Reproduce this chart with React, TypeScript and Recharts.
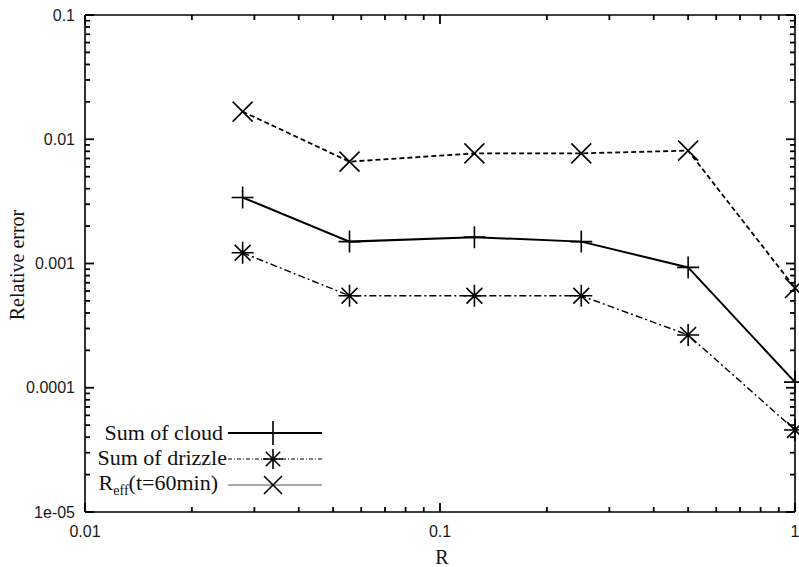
import React from "react";
import { LineChart, Line, XAxis, YAxis, ReferenceDot, ReferenceLine } from "recharts";

const rValues = [0.0278, 0.0556, 0.125, 0.25, 0.5, 1];
const cloudErr = [0.0034, 0.0015, 0.00163, 0.0015, 0.00093, 0.000111];
const drizzleErr = [0.00122, 0.00055, 0.00055, 0.00055, 0.000266, 0.0000457];
const reffErr = [0.0167, 0.0066, 0.0077, 0.0077, 0.0081, 0.000635];

const xMajor = [0.01, 0.1, 1];
const xLabels = ["0.01", "0.1", "1"];
const yMajor = [1e-5, 1e-4, 1e-3, 1e-2, 1e-1];
const yLabels = ["1e-05", "0.0001", "0.001", "0.01", "0.1"];

const seriesNames = ["Sum of cloud", "Sum of drizzle", "Reff(t=60min)"];

const data = rValues.map((r, i) => ({
  r,
  cloud: cloudErr[i],
  drizzle: drizzleErr[i],
  reff: reffErr[i],
}));

function minorsOf(majors: number[]) {
  const out: number[] = [];
  majors.forEach((m, i) => {
    if (i < majors.length - 1) {
      for (let k = 2; k <= 9; k++) out.push(parseFloat((m * k).toPrecision(6)));
    }
  });
  return out;
}
const xMinor = minorsOf(xMajor);
const yMinor = minorsOf(yMajor);
const X_MIN = xMajor[0];
const X_MAX = xMajor[xMajor.length - 1];
const Y_MIN = yMajor[0];
const Y_MAX = yMajor[yMajor.length - 1];

function labelFor(majors: number[], labels: string[]) {
  return (v: number) => {
    const i = majors.findIndex((m) => Math.abs(m - v) / m < 1e-6);
    return i >= 0 ? labels[i] : "";
  };
}

const TICK_FONT = "'Liberation Sans', Arial, sans-serif";
const SERIF = "'Liberation Serif', 'Times New Roman', serif";
const tickStyle = { fontFamily: TICK_FONT, fontSize: 16, fill: "#1a1a1a" };
const frame = { stroke: "#000", strokeWidth: 1.6 };

const TickMark = (props: any) => {
  const { cx, cy, dx, dy } = props;
  if (cx == null || cy == null) return <g />;
  return <path d={`M${cx},${cy}l${dx},${dy}`} stroke="#000" strokeWidth={1.8} fill="none" />;
};

const PlusDot = (props: any) => {
  const { cx, cy, s = 11 } = props;
  if (cx == null || cy == null) return null;
  return (
    <path d={`M${cx - s},${cy}H${cx + s}M${cx},${cy - s}V${cy + s}`} stroke="#000" strokeWidth={1.6} fill="none" />
  );
};
const StarDot = (props: any) => {
  const { cx, cy, s = 11 } = props;
  if (cx == null || cy == null) return null;
  const d = s * 0.72;
  return (
    <path
      d={`M${cx - s},${cy}H${cx + s}M${cx},${cy - s}V${cy + s}M${cx - d},${cy - d}L${cx + d},${cy + d}M${cx - d},${cy + d}L${cx + d},${cy - d}`}
      stroke="#000"
      strokeWidth={1.6}
      fill="none"
    />
  );
};
const CrossDot = (props: any) => {
  const { cx, cy, s = 10 } = props;
  if (cx == null || cy == null) return null;
  return (
    <path
      d={`M${cx - s},${cy - s}L${cx + s},${cy + s}M${cx - s},${cy + s}L${cx + s},${cy - s}`}
      stroke="#000"
      strokeWidth={1.6}
      fill="none"
    />
  );
};

const xTickMarks = [
  ...xMajor.map((v) => ({ v, len: 9 })),
  ...xMinor.map((v) => ({ v, len: 5 })),
];
const yTickMarks = [
  ...yMajor.map((v) => ({ v, len: 9 })),
  ...yMinor.map((v) => ({ v, len: 5 })),
];

export default function App() {
  return (
    <div style={{ position: "absolute", left: 0, top: 0, width: 799, height: 567, background: "#fff" }}>
      <LineChart width={799} height={567} data={data} margin={{ top: 15, right: 4, bottom: 0, left: 0 }}>
        <XAxis
          xAxisId="b"
          dataKey="r"
          type="number"
          scale="log"
          domain={[X_MIN, X_MAX]}
          ticks={xMajor}
          interval={0}
          orientation="bottom"
          height={55}
          tickSize={0}
          tickMargin={14}
          tickFormatter={labelFor(xMajor, xLabels)}
          tick={tickStyle}
          tickLine={false}
          axisLine={frame}
        />
        <YAxis
          yAxisId="l"
          type="number"
          scale="log"
          domain={[Y_MIN, Y_MAX]}
          ticks={yMajor}
          interval={0}
          orientation="left"
          width={85}
          tickSize={0}
          tickMargin={10}
          tickFormatter={labelFor(yMajor, yLabels)}
          tick={tickStyle}
          tickLine={false}
          axisLine={frame}
        />
        <ReferenceLine xAxisId="b" yAxisId="l" y={Y_MAX} ifOverflow="visible" stroke="#000" strokeWidth={1.6} />
        <ReferenceLine xAxisId="b" yAxisId="l" x={X_MAX} ifOverflow="visible" stroke="#000" strokeWidth={1.6} />
        {xTickMarks.map((t) => (
          <ReferenceDot key={"xb" + t.v} xAxisId="b" yAxisId="l" x={t.v} y={Y_MIN} ifOverflow="visible" shape={<TickMark dx={0} dy={-t.len} />} />
        ))}
        {xTickMarks.map((t) => (
          <ReferenceDot key={"xt" + t.v} xAxisId="b" yAxisId="l" x={t.v} y={Y_MAX} ifOverflow="visible" shape={<TickMark dx={0} dy={t.len} />} />
        ))}
        {yTickMarks.map((t) => (
          <ReferenceDot key={"yl" + t.v} xAxisId="b" yAxisId="l" x={X_MIN} y={t.v} ifOverflow="visible" shape={<TickMark dx={t.len} dy={0} />} />
        ))}
        {yTickMarks.map((t) => (
          <ReferenceDot key={"yr" + t.v} xAxisId="b" yAxisId="l" x={X_MAX} y={t.v} ifOverflow="visible" shape={<TickMark dx={-t.len} dy={0} />} />
        ))}
        <Line
          xAxisId="b"
          yAxisId="l"
          dataKey="reff"
          name={seriesNames[2]}
          stroke="#000"
          strokeWidth={1.8}
          strokeDasharray="5 3"
          dot={<CrossDot />}
          isAnimationActive={false}
        />
        <Line
          xAxisId="b"
          yAxisId="l"
          dataKey="cloud"
          name={seriesNames[0]}
          stroke="#000"
          strokeWidth={2}
          dot={<PlusDot />}
          isAnimationActive={false}
        />
        <Line
          xAxisId="b"
          yAxisId="l"
          dataKey="drizzle"
          name={seriesNames[1]}
          stroke="#000"
          strokeWidth={1.4}
          strokeDasharray="7 3 2 3"
          dot={<StarDot />}
          isAnimationActive={false}
        />
      </LineChart>
      <svg width={799} height={567} style={{ position: "absolute", left: 0, top: 0, pointerEvents: "none" }}>
        <text
          x={0}
          y={0}
          transform="translate(24,265) rotate(-90)"
          textAnchor="middle"
          fontFamily={SERIF}
          fontSize={20}
          fill="#111"
        >
          Relative error
        </text>
        <text x={442} y={564} textAnchor="middle" fontFamily={SERIF} fontSize={20} fill="#111">
          R
        </text>
        <g fontFamily={SERIF} fontSize={22} fill="#111">
          <text x={223} y={440} textAnchor="end">{seriesNames[0]}</text>
          <line x1={228} y1={433} x2={322} y2={433} stroke="#000" strokeWidth={2} />
          <PlusDot cx={273} cy={433} s={12} />
          <text x={227} y={465} textAnchor="end">{seriesNames[1]}</text>
          <line x1={228} y1={459} x2={322} y2={459} stroke="#000" strokeWidth={1.2} strokeDasharray="4 2 1 2" />
          <StarDot cx={273} cy={459} s={10} />
          <text x={218} y={490} textAnchor="end">
            R<tspan fontSize={14} dy={5}>eff</tspan>
            <tspan dy={-5}>(t=60min)</tspan>
          </text>
          <line x1={228} y1={485} x2={322} y2={485} stroke="#555" strokeWidth={1.2} />
          <CrossDot cx={273} cy={485} s={9} />
        </g>
      </svg>
    </div>
  );
}
